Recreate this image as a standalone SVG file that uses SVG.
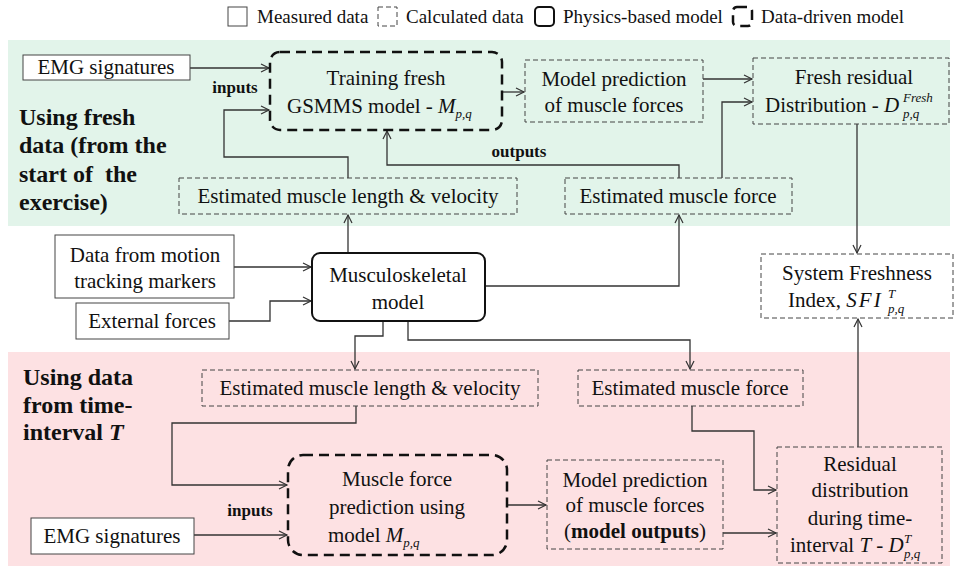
<svg xmlns="http://www.w3.org/2000/svg" width="959" height="577" viewBox="0 0 959 577">
<defs>
<marker id="arr" markerUnits="userSpaceOnUse" markerWidth="12" markerHeight="12" refX="9" refY="5" orient="auto">
<path d="M1,1 L9,5 L1,9" fill="none" stroke="#333" stroke-width="1.2"/>
</marker>
<style>
text{font-family:"Liberation Serif","Times New Roman",serif;fill:#111;}
.t{font-size:21px;text-anchor:middle;}
.lg{font-size:19px;}
.b{font-weight:bold;}
.side{font-size:24px;font-weight:bold;}
.lab{font-size:17px;font-weight:bold;text-anchor:middle;}
.m{font-style:italic;}
.s{font-size:13px;font-style:italic;}
.meas{fill:#fff;stroke:#444;stroke-width:1;}
.calc{fill:none;stroke:#444;stroke-width:1;stroke-dasharray:5,3;}
.phys{fill:#fff;stroke:#111;stroke-width:2;}
.dd{fill:none;stroke:#111;stroke-width:2.5;stroke-dasharray:10,6;}
.c{fill:none;stroke:#333;stroke-width:1.3;marker-end:url(#arr);}
</style>
</defs>
<rect x="0" y="0" width="959" height="577" fill="#fff"/>
<rect x="8" y="40" width="942" height="186" fill="#e2f4ea"/>
<rect x="8" y="352" width="942" height="214" fill="#fde1e3"/>

<g id="legend">
<rect x="228" y="7" width="19" height="19" class="meas"/>
<text x="257" y="23" class="lg">Measured data</text>
<rect x="378" y="7" width="19" height="19" class="calc"/>
<text x="406" y="23" class="lg">Calculated data</text>
<rect x="535" y="7" width="19" height="19" rx="4" class="phys"/>
<text x="563" y="23" class="lg">Physics-based model</text>
<rect x="733" y="7" width="19" height="19" rx="4" class="dd" stroke-dasharray="6,4"/>
<text x="761" y="23" class="lg">Data-driven model</text>
</g>

<g id="label-fresh">
<text x="19" y="125" class="side">Using fresh</text>
<text x="19" y="153" class="side">data (from the</text>
<text x="19" y="182" class="side" xml:space="preserve">start of  the</text>
<text x="19" y="210" class="side">exercise)</text>
</g>
<g id="label-interval">
<text x="23" y="385" class="side">Using data</text>
<text x="23" y="413" class="side">from time-</text>
<text x="23" y="440" class="side">interval <tspan font-style="italic">T</tspan></text>
</g>

<g id="connectors">
<path class="c" d="M190,68 H269"/>
<path class="c" d="M348,178 V157 H224 V110 H269"/>
<path class="c" d="M679,178 V165 H387 V131"/>
<path class="c" d="M502,92 H524"/>
<path class="c" d="M703,79 H752"/>
<path class="c" d="M722,178 V102 H752"/>
<path class="c" d="M857,124 V253"/>
<path class="c" d="M348,253 V215"/>
<path class="c" d="M485,286 H679 V215"/>
<path class="c" d="M234,267 H311"/>
<path class="c" d="M229,321 H270 V301 H311"/>
<path class="c" d="M383,321 V336 H355 V369"/>
<path class="c" d="M408,321 V340 H690 V369"/>
<path class="c" d="M356,406 V423 H172 V485 H287"/>
<path class="c" d="M194,535 H287"/>
<path class="c" d="M507,505 H546"/>
<path class="c" d="M723,533 H776"/>
<path class="c" d="M692,406 V431 H754 V490 H776"/>
<path class="c" d="M858,447 V319"/>
<text x="235" y="93" class="lab">inputs</text>
<text x="519" y="157" class="lab">outputs</text>
<text x="250" y="516" class="lab">inputs</text>
</g>

<g id="emg-top">
<rect x="23" y="55" width="167" height="25" class="meas"/>
<text x="106" y="74" class="t">EMG signatures</text>
</g>
<g id="training">
<rect x="270" y="52" width="232" height="78" rx="10" class="dd"/>
<text x="386" y="85" class="t">Training fresh</text>
<text x="287" y="113" class="t" style="text-anchor:start">GSMMS model - <tspan class="m">M</tspan><tspan class="s" dy="5">p,q</tspan></text>
</g>
<g id="pred-top">
<rect x="525" y="60" width="178" height="62" class="calc"/>
<text x="614" y="86" class="t">Model prediction</text>
<text x="614" y="112" class="t">of muscle forces</text>
</g>
<g id="fresh-residual">
<rect x="753" y="58" width="196" height="66" class="calc"/>
<text x="854" y="84" class="t">Fresh residual</text>
<text x="765" y="112" class="t" style="text-anchor:start">Distribution - <tspan class="m">D</tspan></text>
<text x="903" y="102" class="s">Fresh</text>
<text x="903" y="118" class="s">p,q</text>
</g>
<g id="len-top">
<rect x="179" y="178" width="338" height="36" class="calc"/>
<text x="348" y="203" class="t">Estimated muscle length &amp; velocity</text>
</g>
<g id="force-top">
<rect x="565" y="178" width="227" height="36" class="calc"/>
<text x="678" y="203" class="t">Estimated muscle force</text>
</g>
<g id="motion">
<rect x="55" y="235" width="179" height="63" class="meas"/>
<text x="145" y="262" class="t">Data from motion</text>
<text x="145" y="288" class="t">tracking markers</text>
</g>
<g id="external">
<rect x="76" y="303" width="153" height="36" class="meas"/>
<text x="152" y="328" class="t">External forces</text>
</g>
<g id="musculoskeletal">
<rect x="312" y="253" width="173" height="68" rx="8" class="phys"/>
<text x="398" y="282" class="t">Musculoskeletal</text>
<text x="398" y="309" class="t">model</text>
</g>
<g id="sfi">
<rect x="761" y="254" width="192" height="64" class="calc"/>
<text x="857" y="280" class="t">System Freshness</text>
<text x="788" y="307" class="t" style="text-anchor:start">Index, <tspan class="m" letter-spacing="2">SF</tspan><tspan class="m">I</tspan></text>
<text x="888" y="298" class="s">T</text>
<text x="888" y="313" class="s">p,q</text>
</g>
<g id="len-bottom">
<rect x="202" y="370" width="336" height="36" class="calc"/>
<text x="370" y="395" class="t">Estimated muscle length &amp; velocity</text>
</g>
<g id="force-bottom">
<rect x="578" y="370" width="225" height="36" class="calc"/>
<text x="690" y="395" class="t">Estimated muscle force</text>
</g>
<g id="prediction-model">
<rect x="288" y="455" width="219" height="100" rx="15" class="dd"/>
<text x="397" y="486" class="t">Muscle force</text>
<text x="397" y="514" class="t">prediction using</text>
<text x="328" y="542" class="t" style="text-anchor:start">model <tspan class="m">M</tspan><tspan class="s" dy="5">p,q</tspan></text>
</g>
<g id="emg-bottom">
<rect x="31" y="518" width="163" height="36" class="meas"/>
<text x="112" y="543" class="t">EMG signatures</text>
</g>
<g id="pred-bottom">
<rect x="547" y="460" width="176" height="89" class="calc"/>
<text x="635" y="487" class="t">Model prediction</text>
<text x="635" y="512" class="t">of muscle forces</text>
<text x="635" y="538" class="t">(<tspan class="b">model outputs</tspan>)</text>
</g>
<g id="residual">
<rect x="777" y="447" width="165" height="116" class="calc"/>
<text x="860" y="471" class="t">Residual</text>
<text x="860" y="497" class="t">distribution</text>
<text x="860" y="525" class="t">during time-</text>
<text x="790" y="552" class="t" style="text-anchor:start">interval <tspan class="m">T</tspan> - <tspan class="m">D</tspan></text>
<text x="904" y="543" class="s">T</text>
<text x="904" y="558" class="s">p,q</text>
</g>
</svg>
